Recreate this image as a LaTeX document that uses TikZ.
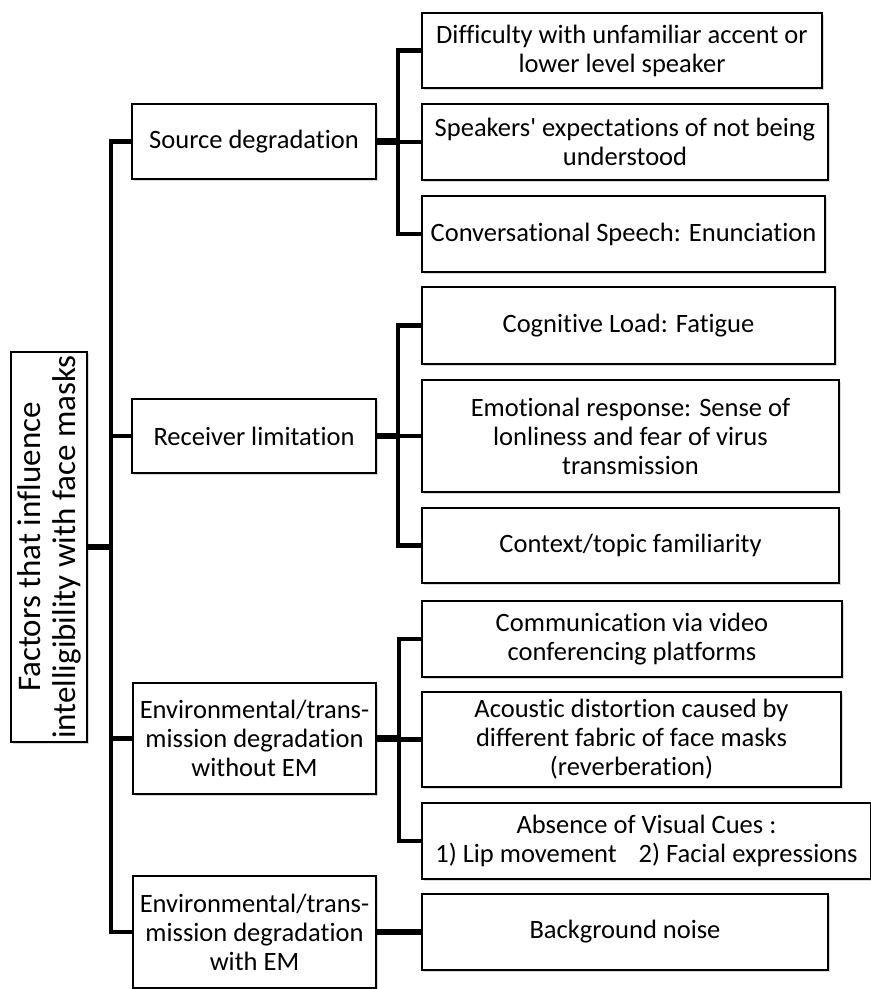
\documentclass[tikz,border=0pt]{standalone}
\usepackage{fontspec}
\setmainfont{Carlito}[Ligatures={TeX,NoCommon}]
\usetikzlibrary{shadows}

\tikzset{
  box/.style={draw, fill=white, line width=1.2pt, align=center, inner sep=0pt,
    drop shadow={opacity=0.3, shadow xshift=1.5pt, shadow yshift=-1.5pt},
    font=\fontsize{26.5}{29}\selectfont},
  link/.style={line width=4.5pt},
  stem/.style={line width=6.5pt},
}

\begin{document}
\begin{tikzpicture}[x=1pt, y=-1pt]
\useasboundingbox (0,0) rectangle (871,989);

% root (turned on its side)
\node[box, rotate=90, minimum width=390pt, minimum height=76pt,
      font=\fontsize{33}{35}\selectfont] (root) at (49,547)
      {Factors that influence\\intelligibility with face masks};

% first level
\node[box, minimum width=244pt, minimum height=75pt] (src) at (254,141.5) {Source degradation};
\node[box, minimum width=244pt, minimum height=74pt] (rec) at (254,436) {Receiver limitation};
\node[box, minimum width=243pt, minimum height=111pt] (envo) at (254.5,738.5)
      {Environmental/trans-\\mission degradation\\without EM};
\node[box, minimum width=243pt, minimum height=112pt] (envw) at (254.5,932)
      {Environmental/trans-\\mission degradation\\with EM};

% second level
\node[box, minimum width=400pt, minimum height=75pt] (s1) at (622,50.5)
      {Difficulty with unfamiliar accent or\\lower level speaker};
\node[box, minimum width=406pt, minimum height=76pt] (s2) at (625,142)
      {Speakers\textquotesingle{} expectations of not being\\understood};
\node[box, minimum width=403pt, minimum height=76pt] (s3) at (623.5,234)
      {Conversational Speech: Enunciation};
\node[box, minimum width=413pt, minimum height=77pt] (r1) at (628.5,325.5)
      {Cognitive Load: Fatigue};
\node[box, minimum width=417pt, minimum height=112pt] (r2) at (630.5,436)
      {Emotional response: Sense of\\lonliness and fear of virus\\transmission};
\node[box, minimum width=417pt, minimum height=75pt] (r3) at (630.5,545.5)
      {Context/topic familiarity};
\node[box, minimum width=420pt, minimum height=76pt] (e1) at (632,639)
      {Communication via video\\conferencing platforms};
\node[box, minimum width=419pt, minimum height=95pt] (e2) at (631.5,739.5)
      {Acoustic distortion caused by\\different fabric of face masks\\(reverberation)};
\node[box, minimum width=449pt, minimum height=76pt] (e3) at (646.5,841)
      {Absence of Visual Cues :\\1) Lip movement\hspace{0.6em} 2) Facial expressions};
\node[box, minimum width=406pt, minimum height=76pt] (n1) at (625,932)
      {Background noise};

% connectors
\coordinate (tr) at (111,547);
\draw[stem] (root.south) -- (tr);
\foreach \p in {src,rec,envo,envw}
  \draw[link] (\p.west) -| (tr);

\coordinate (srcj) at (398,141.5);
\coordinate (recj) at (398,436);
\coordinate (envj) at (399,738.5);
\draw[stem] (src.east) -- (srcj);
\draw[stem] (rec.east) -- (recj);
\draw[stem] (envo.east) -- (envj);
\draw[stem] (envw.east) -- (n1.west);
\foreach \c in {s1,s2,s3}
  \draw[link] (srcj) |- (\c.west);
\foreach \c in {r1,r2,r3}
  \draw[link] (recj) |- (\c.west);
\foreach \c in {e1,e2,e3}
  \draw[link] (envj) |- (\c.west);
\end{tikzpicture}
\end{document}
